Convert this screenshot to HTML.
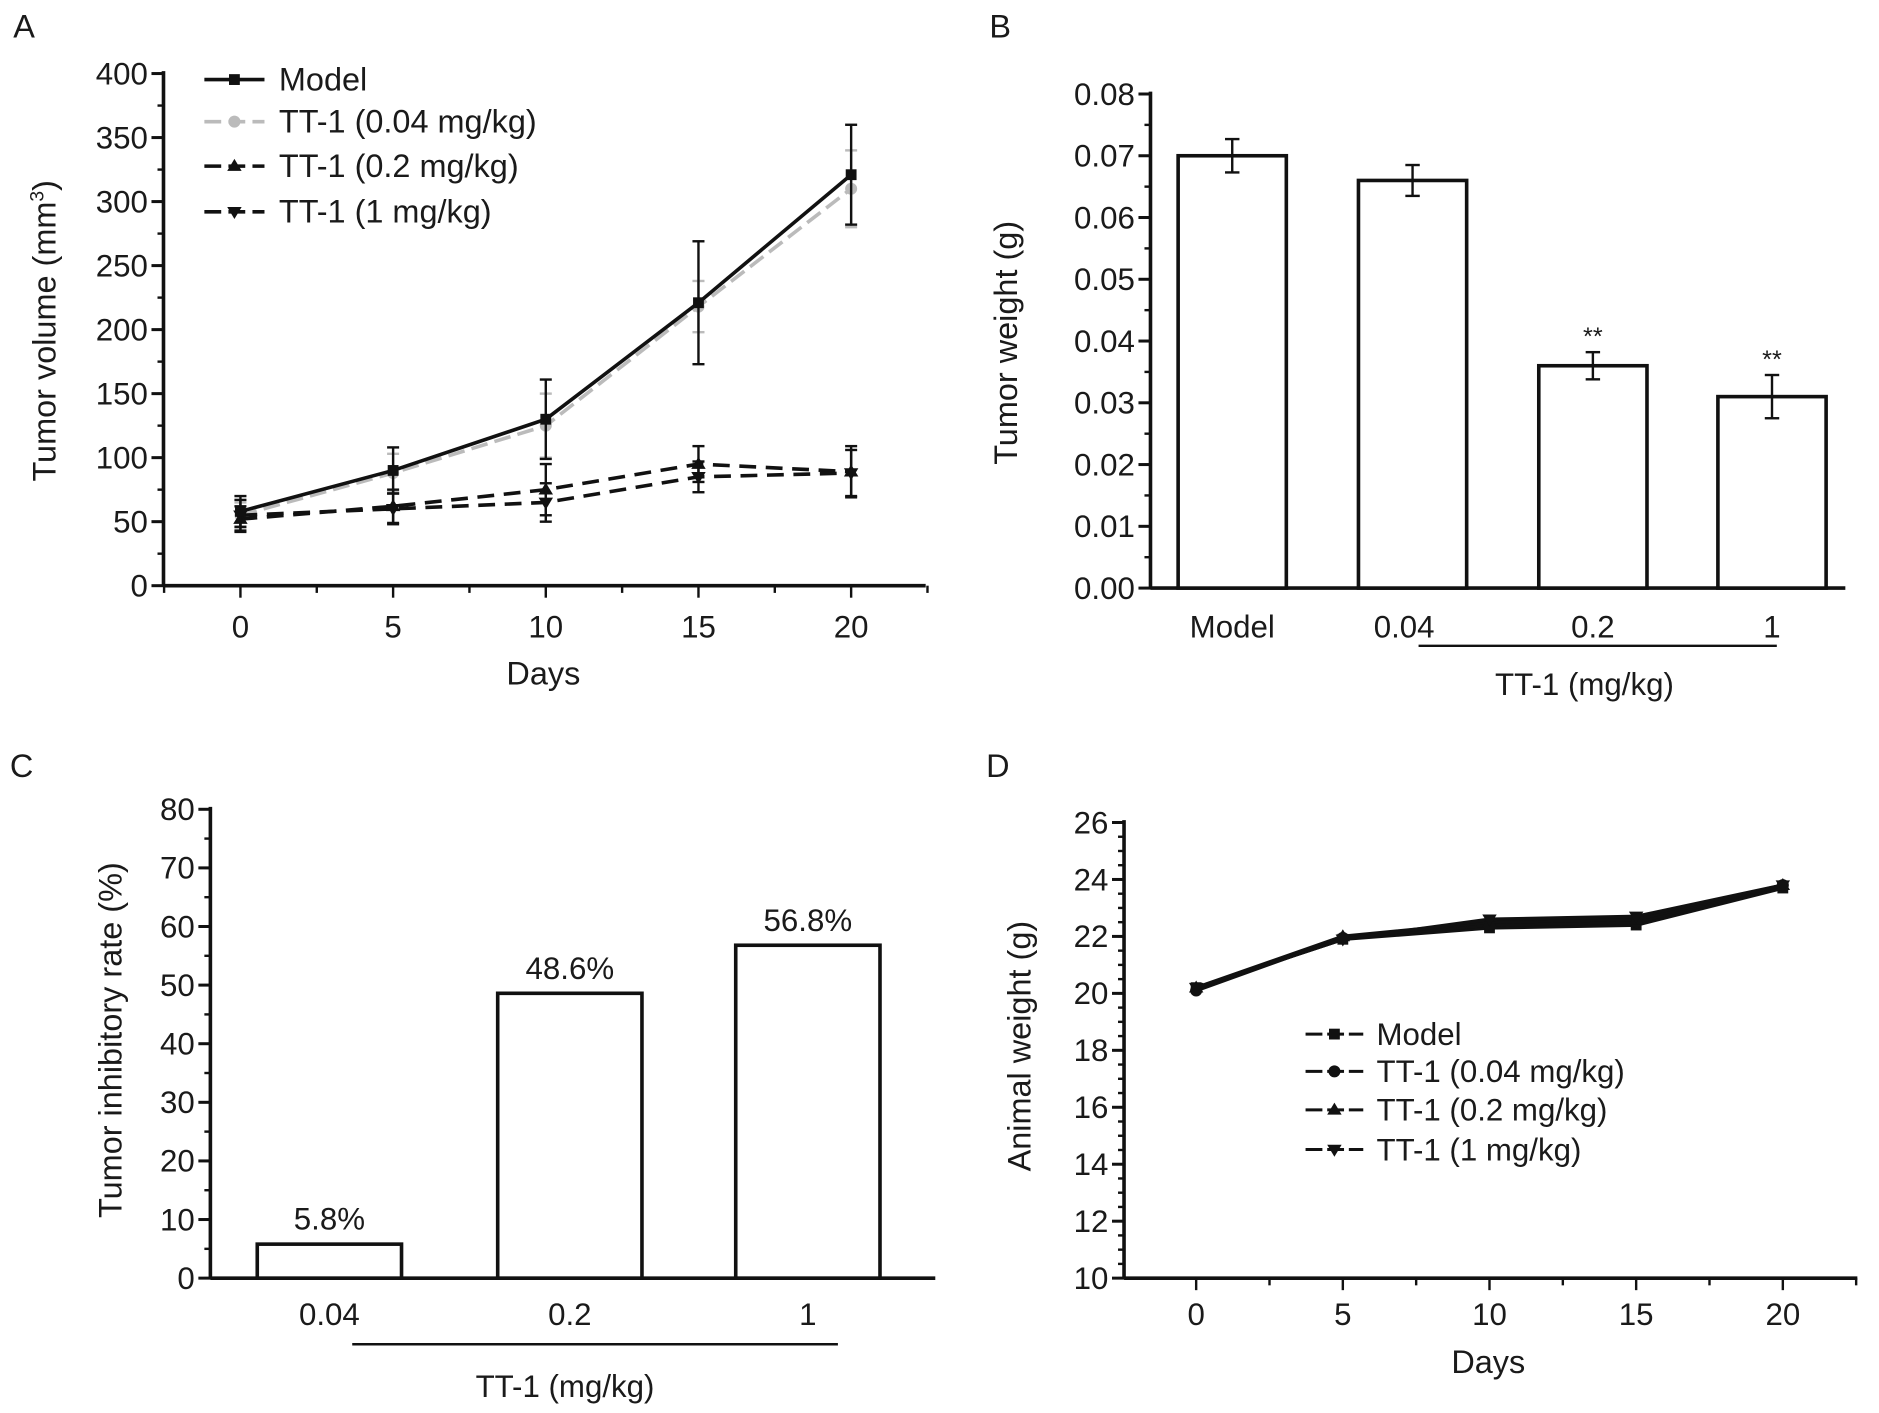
<!DOCTYPE html>
<html><head><meta charset="utf-8"><style>
html,body{margin:0;padding:0;background:#fff;}
svg{display:block;font-family:"Liberation Sans",Arial,sans-serif;}
</style></head><body>
<svg id="fig" width="1879" height="1413" viewBox="0 0 1563 1175" xmlns="http://www.w3.org/2000/svg">
<rect width="1563" height="1175" fill="#fff"/>
</svg>
<script>
// Panel A data
const daysA = [0,5,10,15,20];
const modelA = [58,90,130,221,321];
const modelErrA = [12,18,31,48,39];
const t004A = [55,88,125,218,310];
const t004ErrA = [10,15,25,20,30];
const t02A = [52,62,75,95,89];
const t02ErrA = [10,13,20,14,20];
const t1A = [55,60,65,85,88];
const t1ErrA = [12,12,15,12,18];
const yTicksA = [0,50,100,150,200,250,300,350,400];
const xTicksA = [0,5,10,15,20];
// Panel B data
const catsB = ["Model","0.04","0.2","1"];
const valsB = [0.070,0.066,0.036,0.031];
const errB = [0.0027,0.0025,0.0022,0.0035];
const sigB = ["","","**","**"];
const yTicksB = [0,0.01,0.02,0.03,0.04,0.05,0.06,0.07,0.08];
// Panel C data
const catsC = ["0.04","0.2","1"];
const valsC = [5.8,48.6,56.8];
const labelsC = ["5.8%","48.6%","56.8%"];
const yTicksC = [0,10,20,30,40,50,60,70,80];
// Panel D data
const daysD = [0,5,10,15,20];
const modelD = [20.2,21.9,22.3,22.4,23.7];
const t004D = [20.1,21.95,22.4,22.5,23.8];
const t02D = [20.2,22.0,22.5,22.6,23.8];
const t1D = [20.2,21.9,22.6,22.7,23.8];
const yTicksD = [10,12,14,16,18,20,22,24,26];
const xTicksD = [0,5,10,15,20];

const svg = document.getElementById('fig');
const NS = 'http://www.w3.org/2000/svg';
const FS = 26;
function mk(tag, attrs, parent){
  const e = document.createElementNS(NS, tag);
  for (const k in attrs) e.setAttribute(k, attrs[k]);
  (parent||svg).appendChild(e); return e;
}
function txt(s, x, y, size, anchor, parent){
  const t = mk('text',{x:x,y:y,'font-size':size,'text-anchor':anchor||'middle',fill:'#1a1a1a'},parent);
  t.textContent = s; return t;
}
function lin(x1,y1,x2,y2,w,col,dash,parent){
  return mk('line',{x1:x1,y1:y1,x2:x2,y2:y2,stroke:col||'#111','stroke-width':w||2,'stroke-dasharray':dash||'none'},parent);
}
function marker(kind,x,y,col,parent){
  if(kind==='sq') return mk('rect',{x:x-4.5,y:y-4.5,width:9,height:9,fill:col},parent);
  if(kind==='ci') return mk('circle',{cx:x,cy:y,r:5,fill:col},parent);
  if(kind==='up') return mk('polygon',{points:`${x},${y-6} ${x-6},${y+4} ${x+6},${y+4}`,fill:col},parent);
  return mk('polygon',{points:`${x},${y+6} ${x-6},${y-4} ${x+6},${y-4}`,fill:col},parent);
}
function yAxis(g,x0,yTop,yBot,ticks,sy,fmt,minorStep,vmin,vmax){
  lin(x0,yTop-2,x0,yBot,3,'#111',null,g);
  for(let v=vmin; v<=vmax+1e-9; v+=minorStep) lin(x0-5,sy(v),x0,sy(v),2,'#111',null,g);
  ticks.forEach(v=>{ lin(x0-10,sy(v),x0,sy(v),2.5,'#111',null,g);
    const t=txt(fmt(v),x0-13,sy(v)+9,FS,'end',g);
     });
}

// ---------- Panel A ----------
(function(){
  const g = mk('g',{});  
  const sx = d=>200+(d-0)*(708-200)/20, sy = v=>487-v*(487-61)/400;
  txt('A',20,31,27,'middle',g);
  yAxis(g,136,61,487,yTicksA,sy,v=>String(v),25,0,400);
  lin(136,487,770,487,3,'#111',null,g);
  for(let d=-2.5; d<=22.5; d+=2.5){ const x=sx(d); if(x<136) continue; lin(x,487,x,d%5===0?497:493,2,'#111',null,g);}
  xTicksA.forEach(d=>{const t=txt(String(d),sx(d),530,FS,'middle',g);  });
  const xt=txt('Days',452,569,27,'middle',g);  
  const yt=mk('text',{x:0,y:0,'font-size':27,'text-anchor':'middle',fill:'#1a1a1a',transform:'translate(46,275) rotate(-90)'},g);
  yt.innerHTML='Tumor volume (mm<tspan font-size="16" dy="-10">3</tspan><tspan dy="10">)</tspan>';
   
  const series=[
    {n:'Model',v:modelA,e:modelErrA,col:'#111',dash:null,m:'sq'},
    {n:'TT-1 (0.04 mg/kg)',v:t004A,e:t004ErrA,col:'#bbb',dash:'14,6',m:'ci'},
    {n:'TT-1 (0.2 mg/kg)',v:t02A,e:t02ErrA,col:'#111',dash:'14,8',m:'up'},
    {n:'TT-1 (1 mg/kg)',v:t1A,e:t1ErrA,col:'#111',dash:'14,8',m:'dn'}];
  const order=[1,2,3,0];
  order.forEach(i=>{const s=series[i];
    const sg=mk('g',{},g);  
    const pts=daysA.map((d,j)=>sx(d)+','+sy(s.v[j])).join(' ');
    mk('polyline',{points:pts,fill:'none',stroke:s.col,'stroke-width':3,'stroke-dasharray':s.dash||'none'},sg);
    daysA.forEach((d,j)=>{const x=sx(d),a=sy(s.v[j]+s.e[j]),b=sy(s.v[j]-s.e[j]);
      lin(x,a,x,b,2,s.col,null,sg); lin(x-5,a,x+5,a,2,s.col,null,sg); lin(x-5,b,x+5,b,2,s.col,null,sg);
      marker(s.m,x,sy(s.v[j]),s.col,sg);});
  });
  const ly=[66,101,138,176];
  series.forEach((s,i)=>{const lg=mk('g',{},g);  
    lin(170,ly[i],220,ly[i],3,s.col,s.dash?'14,6':null,lg); marker(s.m,195,ly[i],s.col,lg);
    txt(s.n,232,ly[i]+9,27,'start',lg);});
})();

// ---------- Panel B ----------
(function(){
  const g = mk('g',{});  
  const sy=v=>489-v*(489-78)/0.08;
  txt('B',832,31,27,'middle',g);
  yAxis(g,957,78,489,yTicksB,sy,v=>v.toFixed(2),0.005,0,0.08);
  lin(957,489,1535,489,3,'#111',null,g);
  const centers=[1025,1175,1325,1474];
  catsB.forEach((c,i)=>{const x=centers[i];
    const b=mk('rect',{x:x-45,y:sy(valsB[i]),width:90,height:489-sy(valsB[i]),fill:'#fff',stroke:'#111','stroke-width':3},g);
     
    const a=sy(valsB[i]+errB[i]),d=sy(valsB[i]-errB[i]);
    lin(x,a,x,d,2,'#111',null,g); lin(x-6,a,x+6,a,2,'#111',null,g); lin(x-6,d,x+6,d,2,'#111',null,g);
    if(sigB[i]) txt(sigB[i],x,a-6,21,'middle',g);
    txt(c,x-(i===1?7:0),530,FS,'middle',g);
  });
  lin(1180,537,1478,537,2,'#111',null,g);
  txt('TT-1 (mg/kg)',1318,578,FS,'middle',g);
  const yt=txt('Tumor weight (g)',0,0,27,'middle',g); yt.setAttribute('transform','translate(846,285) rotate(-90)');
   
})();

// ---------- Panel C ----------
(function(){
  const g = mk('g',{});  
  const sy=v=>1063-v*(1063-673)/80;
  txt('C',18,646,27,'middle',g);
  yAxis(g,175,673,1063,yTicksC,sy,v=>String(v),5,0,80);
  lin(175,1063,778,1063,3,'#111',null,g);
  const centers=[274,474,672];
  catsC.forEach((c,i)=>{const x=centers[i];
    const b=mk('rect',{x:x-60,y:sy(valsC[i]),width:120,height:1063-sy(valsC[i]),fill:'#fff',stroke:'#111','stroke-width':3},g);
     
    txt(labelsC[i],x,sy(valsC[i])-12,FS,'middle',g);
    txt(c,x,1102,FS,'middle',g);
  });
  lin(293,1118,697,1118,2,'#111',null,g);
  txt('TT-1 (mg/kg)',470,1162,FS,'middle',g);
  const yt=txt('Tumor inhibitory rate (%)',0,0,27,'middle',g); yt.setAttribute('transform','translate(101,865) rotate(-90)');
   
})();

// ---------- Panel D ----------
(function(){
  const g = mk('g',{});  
  const sx=d=>995+d*(1483-995)/20, sy=v=>1063-(v-10)*(1063-684)/16;
  txt('D',830,646,27,'middle',g);
  yAxis(g,935,684,1063,yTicksD,sy,v=>String(v),0.5,10,26);
  lin(935,1063,1545,1063,3,'#111',null,g);
  for(let d=-2.5; d<=22.5; d+=2.5){ const x=sx(d); if(x<935) continue; lin(x,1063,x,d%5===0?1073:1069,2,'#111',null,g);}
  xTicksD.forEach(d=>txt(String(d),sx(d),1102,FS,'middle',g));
  txt('Days',1238,1142,27,'middle',g);
  const yt=txt('Animal weight (g)',0,0,27,'middle',g); yt.setAttribute('transform','translate(857,870) rotate(-90)');
   
  const series=[{n:'Model',v:modelD,m:'sq'},{n:'TT-1 (0.04 mg/kg)',v:t004D,m:'ci'},{n:'TT-1 (0.2 mg/kg)',v:t02D,m:'up'},{n:'TT-1 (1 mg/kg)',v:t1D,m:'dn'}];
  series.forEach((s,i)=>{const sg=mk('g',{},g);  
    mk('polyline',{points:daysD.map((d,j)=>sx(d)+','+sy(s.v[j])).join(' '),fill:'none',stroke:'#111','stroke-width':3},sg);
    daysD.forEach((d,j)=>marker(s.m,sx(d),sy(s.v[j]),'#111',sg));});
  const ly=[860,891,923,956];
  series.forEach((s,i)=>{const lg=mk('g',{},g);  
    lin(1086,ly[i],1134,ly[i],2.5,'#111','14,4',lg); marker(s.m,1110,ly[i],'#111',lg);
    txt(s.n,1145,ly[i]+9,FS,'start',lg);});
})();
</script>
</body></html>
